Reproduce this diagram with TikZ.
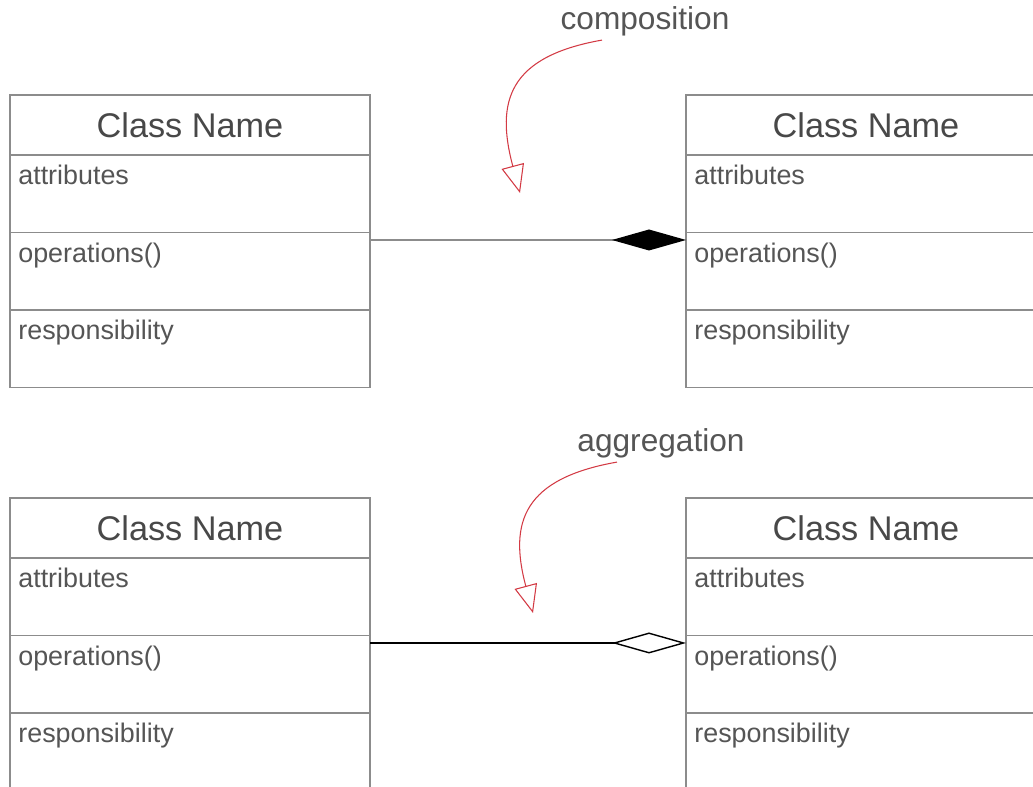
\documentclass[tikz,border=0pt]{standalone}
\usepackage{fontspec}
\setmainfont{Liberation Sans}
\usetikzlibrary{positioning,arrows.meta}

\definecolor{boxgray}{HTML}{8C8C8C}
\definecolor{textgray}{HTML}{555555}
\definecolor{notered}{HTML}{D33A44}

\tikzset{
  classname/.style={draw=boxgray, line width=1.1pt, minimum width=7.2cm, minimum height=1.2cm,
    inner sep=0pt, outer sep=0pt, text=textgray!85!black, font=\fontsize{19.5}{22}\selectfont},
  compart/.style={draw=boxgray, line width=1.1pt, minimum width=7.2cm, minimum height=1.55cm,
    inner sep=0pt, outer sep=0pt},
  member/.style={anchor=north west, inner sep=0pt, xshift=0.16cm, yshift=-0.2cm,
    text=textgray, font=\fontsize{15.3}{18}\selectfont},
  remark/.style={inner sep=0pt, text=textgray, font=\fontsize{18}{21}\selectfont},
  remarkarrow/.style={draw=notered, line width=0.6pt,
    -{Triangle[open, length=0.56cm, width=0.46cm]}},
}

\begin{document}
\begin{tikzpicture}
      \useasboundingbox[fill=white] (0,0) rectangle (20.66,15.74);
      % Define nodes
      \foreach \cls/\x/\y in {cpart/0.2/13.84, cwhole/13.72/13.84, apart/0.2/5.78, awhole/13.72/5.78} {
        \node[classname, anchor=north west] (\cls) at (\x,\y) {Class Name};
        \node[compart, below=0pt of \cls, label={[member]north west:attributes}] (\cls attr) {};
        \node[compart, below=0pt of \cls attr, label={[member]north west:operations()}] (\cls ops) {};
        \node[compart, below=0pt of \cls ops, label={[member]north west:responsibility}] (\cls resp) {};
      }
      \node[remark] (comp) at (12.9,15.32) {composition};
      \node[remark] (aggr) at (13.22,6.88) {aggregation};
      \coordinate (comptip) at (10.4,11.88);
      \coordinate (aggrtip) at (10.66,3.48);
      % Connect nodes
      \draw[draw=boxgray, line width=0.8pt, -{Diamond[color=black, fill=black, length=1.48cm, width=0.42cm]}]
        ([yshift=-0.15cm]cpartops.north east) -- ([yshift=-0.15cm]cwholeops.north west);
      \draw[line width=0.8pt, -{Diamond[open, fill=white, length=1.48cm, width=0.42cm]}]
        ([yshift=-0.15cm]apartops.north east) -- ([yshift=-0.15cm]awholeops.north west);
      \draw[remarkarrow] ([xshift=-0.86cm, yshift=-0.08cm]comp.south) to[out=190, in=105, looseness=1.4] (comptip);
      \draw[remarkarrow] ([xshift=-0.88cm, yshift=-0.08cm]aggr.south) to[out=190, in=105, looseness=1.4] (aggrtip);
    \end{tikzpicture}
\end{document}
